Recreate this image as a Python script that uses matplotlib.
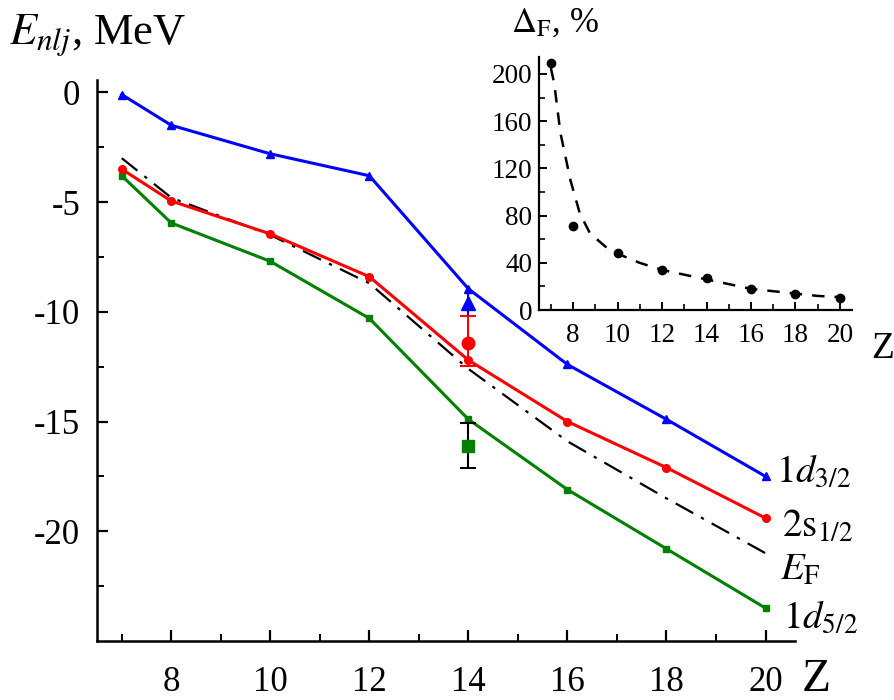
import matplotlib
matplotlib.use("Agg")
import matplotlib.pyplot as plt
from matplotlib.ticker import MultipleLocator

plt.rcParams['font.family'] = ['Liberation Serif', 'DejaVu Serif']
plt.rcParams['mathtext.fontset'] = 'stix'
plt.rcParams['axes.unicode_minus'] = False

# ---- data ----
Z = [7, 8, 10, 12, 14, 16, 18, 20]
E_1d32 = [-0.1, -1.5, -2.8, -3.8, -8.95, -12.4, -14.9, -17.5]
E_2s12 = [-3.5, -4.95, -6.45, -8.4, -12.2, -15.0, -17.1, -19.4]
E_1d52 = [-3.8, -5.95, -7.7, -10.3, -14.9, -18.1, -20.8, -23.5]
E_F = [-3.0, -4.8, -6.5, -8.7, -12.6, -15.9, -18.5, -21.0]

# experimental values at Z = 14
Z_exp = [14]
exp_1d32 = [-9.6]
exp_1d32_err = [0.6]
exp_2s12 = [-11.4]
exp_2s12_err_lo = [1.05]
exp_2s12_err_hi = [1.2]
exp_1d52 = [-16.1]
exp_1d52_err_lo = [1.0]
exp_1d52_err_hi = [1.05]

y_ticks = [0, -5, -10, -15, -20]
x_ticks = [8, 10, 12, 14, 16, 18, 20]

# inset
Z_in = [7, 8, 10, 12, 14, 16, 18, 20]
Delta_F = [209, 71, 48, 34, 27, 18, 14, 10]
Z_fit = [7.0, 7.15, 7.43, 7.88, 8.3, 8.76, 9.5, 10.1, 11.0, 12.0, 13.0, 14.0, 15.0, 16.0, 17.0, 18.0, 19.0, 20.0]
D_fit = [205, 192, 150, 110, 82, 65, 53, 47, 40, 34, 30, 26, 22, 18, 16, 14, 12, 11]
inset_y_ticks = [0, 40, 80, 120, 160, 200]

fig = plt.figure(figsize=(8.94, 7.0), dpi=100)

ax = fig.add_axes([0.1085, 0.0843, 0.781, 0.801])
ax.plot(Z, E_F, color='black', lw=1.6, dashes=(9, 4, 1.5, 4))
ax.plot(Z, E_1d52, color='#008000', lw=2.2, marker='s', ms=5)
ax.plot(Z, E_2s12, color='#ff0000', lw=2.2, marker='o', ms=5.5)
ax.plot(Z, E_1d32, color='#0000ff', lw=2.2, marker='^', ms=6)

ax.errorbar(Z_exp, exp_1d32, yerr=exp_1d32_err, fmt='^', color='#0000ff', ms=10, capsize=0, elinewidth=1.5)
ax.errorbar(Z_exp, exp_2s12, yerr=[exp_2s12_err_lo, exp_2s12_err_hi], fmt='o', color='#ff0000', ms=9,
            capsize=6, elinewidth=1.5, capthick=1.5)
ax.errorbar(Z_exp, exp_1d52, yerr=[exp_1d52_err_lo, exp_1d52_err_hi], fmt='none', ecolor='black',
            capsize=6, elinewidth=1.5, capthick=1.5)
ax.plot(Z_exp, exp_1d52, 's', color='#008000', ms=8)

ax.set_xlim(6.5, 20.6)
ax.set_ylim(-25, 0.55)
ax.spines['top'].set_visible(False)
ax.spines['right'].set_visible(False)
for s in ('left', 'bottom'):
    ax.spines[s].set_linewidth(1.8)
ax.set_xticks(x_ticks)
ax.xaxis.set_minor_locator(MultipleLocator(1))
ax.set_yticks(y_ticks)
ax.set_yticks([-2.5, -7.5, -12.5, -17.5, -22.5], minor=True)
ax.tick_params(which='major', direction='in', length=8, width=1.6, labelsize=25, pad=12)
ax.tick_params(which='minor', direction='in', length=5, width=1.4)
ax.tick_params(axis='x', pad=18)

fig.text(0.010, 1 - 44 / 700, r'$E_{nlj}$, MeV', fontsize=32, va='baseline', ha='left')
fig.text(802 / 894, 1 - 691 / 700, 'Z', fontsize=34, va='baseline', ha='left')

fig.text(776 / 894, 1 - 482 / 700, r'$1d_{3/2}$', fontsize=28, va='baseline')
fig.text(782 / 894, 1 - 537 / 700, r'$2\mathrm{s}_{1/2}$', fontsize=28, va='baseline')
fig.text(780 / 894, 1 - 580 / 700, r'$E_{\mathrm{F}}$', fontsize=28, va='baseline')
fig.text(783 / 894, 1 - 628 / 700, r'$1d_{5/2}$', fontsize=28, va='baseline')

# inset
ai = fig.add_axes([0.603, 0.557, 0.350, 0.361])
ai.patch.set_alpha(0)
ai.plot(Z_fit, D_fit, color='black', lw=1.8, dashes=(5, 4))
ai.plot(Z_in, Delta_F, 'o', color='black', ms=6)
ai.set_xlim(6.47, 20.54)
ai.set_ylim(0, 214)
ai.spines['top'].set_visible(False)
ai.spines['right'].set_visible(False)
for s in ('left', 'bottom'):
    ai.spines[s].set_linewidth(1.6)
ai.set_xticks(x_ticks)
ai.xaxis.set_minor_locator(MultipleLocator(1))
ai.set_yticks(inset_y_ticks)
ai.yaxis.set_minor_locator(MultipleLocator(20))
ai.tick_params(which='major', direction='in', length=6, width=1.4, labelsize=19.5, pad=5)
ai.tick_params(which='minor', direction='in', length=4, width=1.2)
ai.tick_params(axis='x', pad=9)

fig.text(511 / 894, 1 - 32 / 700, r'$\Delta_{\mathrm{F}}$, %', fontsize=25, va='baseline')
fig.text(871 / 894, 1 - 358 / 700, 'Z', fontsize=27, va='baseline')

fig.savefig('out.png', dpi=100)
